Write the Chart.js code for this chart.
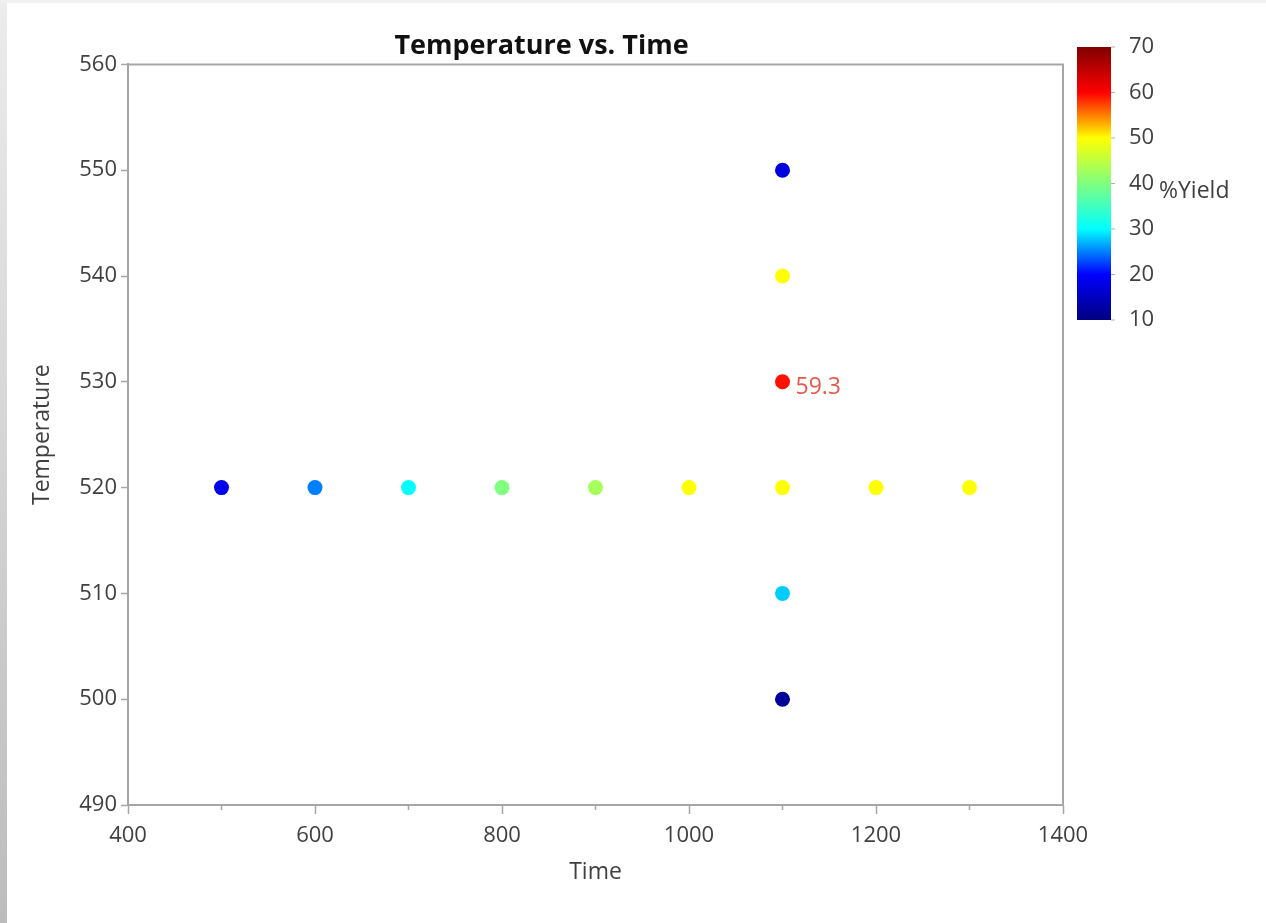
<!DOCTYPE html>
<html><head><meta charset="utf-8">
<script src="https://cdn.jsdelivr.net/npm/chart.js@4/dist/chart.umd.min.js"></script>
<style>
html,body{margin:0;padding:0;background:#fff;overflow:hidden;}
#wrap{position:relative;width:1266px;height:923px;}
canvas{position:absolute;left:0;top:0;}
#edge{position:absolute;left:0;top:0;width:7px;height:923px;background:linear-gradient(#ececec,#bcbcbc);}
#topedge{position:absolute;left:0;top:0;width:1266px;height:3px;background:#f0f0f0;}
</style></head><body>
<div id="wrap"><canvas id="c" width="1266" height="923"></canvas><div id="edge"></div><div id="topedge"></div></div>
<script>
// ---- data ----
const timeValues        = [500, 600, 700, 800, 900, 1000, 1100, 1200, 1300, 1100, 1100, 1100, 1100, 1100];
const temperatureValues = [520, 520, 520, 520, 520, 520,  520,  520,  520,  550,  540,  530,  510,  500];
const yieldValues       = [18.5, 25, 30, 40, 43, 50, 50, 50, 50, 17.5, 50, 59.3, 28, 12];
const labeledIndex = 11;
const labeledText = '59.3';
const xMin = 400, xMax = 1400, xStep = 100;
const yMin = 490, yMax = 560, yStep = 10;
const yieldTicks = [10, 20, 30, 40, 50, 60, 70];
const yieldMin = 10, yieldMax = 70;
const titleText = 'Temperature vs. Time';
const xTitle = 'Time', yTitle = 'Temperature', colorTitle = '%Yield';

// ---- colour map (jet-like) ----
const cmapStops = [[10,[0,0,128]],[20,[0,0,255]],[30,[0,255,255]],[40,[128,255,128]],[50,[255,255,0]],[60,[255,0,0]],[70,[128,0,0]]];
function cmap(v){
  if (v <= cmapStops[0][0]) return 'rgb(' + cmapStops[0][1].join(',') + ')';
  for (let i = 1; i < cmapStops.length; i++){
    const [v1,c1] = cmapStops[i-1], [v2,c2] = cmapStops[i];
    if (v <= v2){
      const t = (v - v1)/(v2 - v1);
      const c = c1.map((a,k)=>Math.round(a + (c2[k]-a)*t));
      return 'rgb(' + c.join(',') + ')';
    }
  }
  return 'rgb(' + cmapStops[cmapStops.length-1][1].join(',') + ')';
}

const FONT = "'Open Sans', 'Noto Sans', sans-serif";
const AXIS_COLOR = '#a6a6a6';
const TEXT_COLOR = '#3f3f3f';

const points = timeValues.map((t,i)=>({x:t, y:temperatureValues[i]}));
const colors = yieldValues.map(cmap);

const extras = {
  id: 'extras',
  afterDraw(chart){
    const ctx = chart.ctx, ca = chart.chartArea;
    ctx.save();
    // frame top/right
    ctx.strokeStyle = AXIS_COLOR; ctx.lineWidth = 2;
    ctx.beginPath();
    ctx.moveTo(ca.left, ca.top); ctx.lineTo(ca.right, ca.top); ctx.lineTo(ca.right, ca.bottom);
    ctx.stroke();
    // minor x ticks
    const xs = chart.scales.x;
    ctx.lineWidth = 1.5;
    for (let v = xMin + xStep; v < xMax; v += 2*xStep){
      const px = xs.getPixelForValue(v);
      ctx.beginPath(); ctx.moveTo(px, ca.bottom); ctx.lineTo(px, ca.bottom + 5); ctx.stroke();
    }
    // point label
    const el = chart.getDatasetMeta(0).data[labeledIndex];
    ctx.fillStyle = '#e8574a';
    ctx.font = '23px ' + FONT;
    ctx.textAlign = 'left'; ctx.textBaseline = 'middle';
    ctx.fillText(labeledText, el.x + 13, el.y + 6);
    // colour bar
    const cbL = 1077, cbR = 1111, cbT = 47, cbB = 320;
    const grad = ctx.createLinearGradient(0, cbB, 0, cbT);
    cmapStops.forEach(([v,c])=>grad.addColorStop((v-yieldMin)/(yieldMax-yieldMin), 'rgb('+c.join(',')+')'));
    ctx.fillStyle = grad;
    ctx.fillRect(cbL, cbT, cbR-cbL, cbB-cbT);
    ctx.strokeStyle = '#b0b0b0'; ctx.lineWidth = 1;
    ctx.fillStyle = TEXT_COLOR;
    ctx.font = '22px ' + FONT;
    yieldTicks.forEach(v=>{
      const py = cbB - (v-yieldMin)/(yieldMax-yieldMin)*(cbB-cbT);
      ctx.beginPath(); ctx.moveTo(cbR, py); ctx.lineTo(cbR+4, py); ctx.stroke();
      ctx.fillText(String(v), 1129, py);
    });
    ctx.font = '23px ' + FONT;
    ctx.fillText(colorTitle, 1159, 191);
    ctx.restore();
  }
};

new Chart(document.getElementById('c'), {
  type: 'scatter',
  data: { datasets: [{ data: points, backgroundColor: colors, borderWidth: 0, pointRadius: 7.5, pointHoverRadius: 7.5 }] },
  options: {
    responsive: false, animation: false,
    layout: { padding: { left: 20, right: 203, top: 0, bottom: 37 } },
    plugins: {
      legend: { display: false }, tooltip: { enabled: false },
      title: { display: true, text: titleText, color: '#111', font: { family: FONT, size: 27, weight: 'bold' }, padding: { top: 30, bottom: 2 } }
    },
    scales: {
      x: {
        type: 'linear', min: xMin, max: xMax,
        ticks: { stepSize: xStep, autoSkip: false, maxRotation: 0, color: TEXT_COLOR, font: { family: FONT, size: 22 }, padding: 9,
                 callback: v => (v - xMin) % (2*xStep) === 0 ? String(v) : '' },
        grid: { drawOnChartArea: false, tickLength: 9, tickWidth: 1.5,
                tickColor: c => (c.tick && (c.tick.value - xMin) % (2*xStep) !== 0) ? 'rgba(0,0,0,0)' : AXIS_COLOR },
        border: { color: AXIS_COLOR, width: 2 },
        title: { display: true, text: xTitle, color: TEXT_COLOR, font: { family: FONT, size: 23 }, padding: { top: 10, bottom: 0 } },
        afterFit: s => { s.height = 81; }
      },
      y: {
        type: 'linear', min: yMin, max: yMax,
        ticks: { stepSize: yStep, color: TEXT_COLOR, font: { family: FONT, size: 22 }, padding: 4 },
        grid: { drawOnChartArea: false, tickLength: 7, tickWidth: 1.5, tickColor: AXIS_COLOR },
        border: { color: AXIS_COLOR, width: 2 },
        title: { display: true, text: yTitle, color: TEXT_COLOR, font: { family: FONT, size: 23 }, padding: { top: 9, bottom: 0 } },
        afterFit: s => { s.width = 108; }
      }
    }
  },
  plugins: [extras]
});
</script>
</body></html>
